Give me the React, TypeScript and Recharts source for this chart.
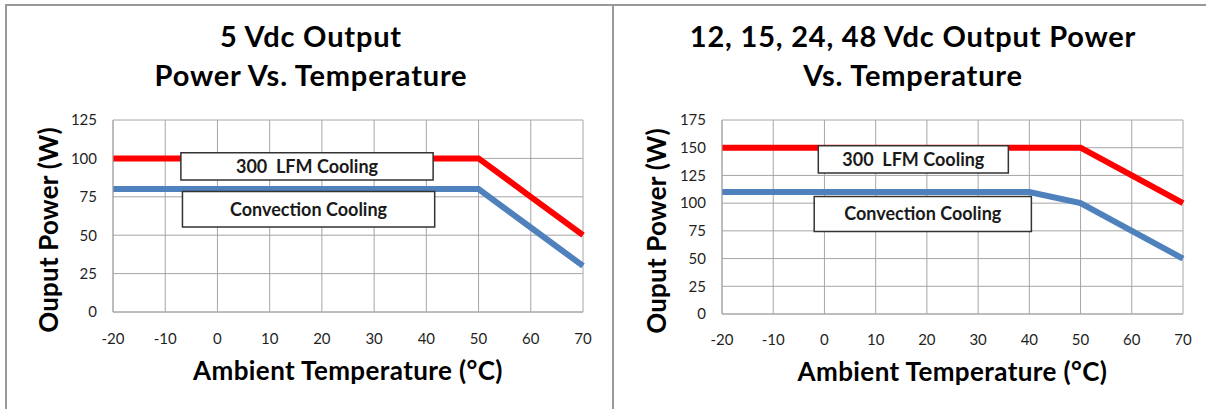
import React from "react";
import {
  CartesianGrid,
  Label,
  Line,
  LineChart,
  ReferenceArea,
  XAxis,
  YAxis,
} from "recharts";

// ambient temperature (°C)
const temps = [-20, -10, 0, 10, 20, 30, 40, 50, 60, 70];

// 5 Vdc output power (W)
const lfm5 = [100, 100, 100, 100, 100, 100, 100, 100, 75, 50];
const conv5 = [80, 80, 80, 80, 80, 80, 80, 80, 55, 30];

// 12, 15, 24, 48 Vdc output power (W)
const lfm12 = [150, 150, 150, 150, 150, 150, 150, 150, 125, 100];
const conv12 = [110, 110, 110, 110, 110, 110, 110, 100, 75, 50];

const yTicks5 = [0, 25, 50, 75, 100, 125];
const yTicks12 = [0, 25, 50, 75, 100, 125, 150, 175];

const lfmName = "300\u00a0 LFM Cooling";
const convName = "Convection Cooling";

const GRID = "#a6a6a6";
const RED = "#ff0000";
const BLUE = "#4f81bd";
const FONT = "Lato, 'Open Sans', sans-serif";

const yTitle = (dx: number, dy: number) => (props: any) => {
  const vb = props.viewBox;
  const cx = vb.x + dx;
  const cy = vb.y + vb.height / 2 + dy;
  return (
    <text
      x={cx}
      y={cy}
      transform={`rotate(-90 ${cx} ${cy})`}
      textAnchor="middle"
      dominantBaseline="central"
      fontSize={26}
      fontWeight="bold"
      fontFamily={FONT}
      letterSpacing={0.2}
      fill="#000"
    >
      Ouput Power (W)
    </text>
  );
};

const xTitle = (dy: number) => (props: any) => {
  const vb = props.viewBox;
  return (
    <text
      x={vb.x + vb.width / 2}
      y={vb.y + dy}
      textAnchor="middle"
      fontSize={26}
      fontWeight="bold"
      fontFamily={FONT}
      letterSpacing={0.4}
      fill="#000"
    >
      Ambient Temperature (°C)
    </text>
  );
};

type Box = { x1: number; x2: number; y1: number; y2: number; text: string };

const boxLabel = (text: string) => ({
  value: text,
  position: "center" as const,
  fontSize: 18,
  fontWeight: "bold",
  fill: "#1a1a1a",
  fontFamily: FONT,
});

const Panel = ({
  left,
  width,
  titleCenter,
  title,
  lfm,
  conv,
  yMax,
  yTicks,
  margin,
  yDx,
  yDy,
  xDy,
  tickMargin,
  boxes,
}: {
  left: number;
  width: number;
  titleCenter: number;
  title: string[];
  lfm: number[];
  conv: number[];
  yMax: number;
  yTicks: number[];
  margin: { top: number; right: number; bottom: number; left: number };
  yDx: number;
  yDy: number;
  xDy: number;
  tickMargin: number;
  boxes: Box[];
}) => {
  const data = temps.map((t, i) => ({ t, lfm: lfm[i], conv: conv[i] }));
  return (
    <div style={{ position: "absolute", left, top: 0, width, height: 409 }}>
      <div
        style={{
          position: "absolute",
          left: titleCenter - 300,
          top: 16,
          width: 600,
          textAlign: "center",
          fontSize: 29,
          lineHeight: "39px",
          letterSpacing: 0.8,
          fontWeight: "bold",
          color: "#000",
        }}
      >
        {title.map((l) => (
          <div key={l}>{l}</div>
        ))}
      </div>
      <div style={{ position: "absolute", left: 0, top: 0 }}>
        <LineChart width={width} height={409} data={data} margin={margin}>
          <CartesianGrid stroke={GRID} strokeWidth={1} fill="#fff" />
          <XAxis
            dataKey="t"
            type="number"
            domain={[-20, 70]}
            ticks={temps}
            interval={0}
            height={30}
            axisLine={{ stroke: GRID }}
            tickLine={false}
            tickSize={0}
            tickMargin={tickMargin}
            tick={{ fill: "#1f1f1f", fontSize: 15 }}
          >
            <Label content={xTitle(xDy)} />
          </XAxis>
          <YAxis
            type="number"
            domain={[0, yMax]}
            ticks={yTicks}
            interval={0}
            width={60}
            axisLine={{ stroke: GRID }}
            tickLine={false}
            tickSize={0}
            tickMargin={16}
            tick={{ fill: "#1f1f1f", fontSize: 15 }}
          >
            <Label content={yTitle(yDx, yDy)} />
          </YAxis>
          <Line
            type="linear"
            dataKey="lfm"
            stroke={RED}
            strokeWidth={6}
            dot={false}
            activeDot={false}
            isAnimationActive={false}
          />
          <Line
            type="linear"
            dataKey="conv"
            stroke={BLUE}
            strokeWidth={6}
            dot={false}
            activeDot={false}
            isAnimationActive={false}
          />
          {boxes.map((b) => (
            <ReferenceArea
              key={b.text}
              x1={b.x1}
              x2={b.x2}
              y1={b.y1}
              y2={b.y2}
              fill="#fff"
              fillOpacity={1}
              stroke="#333"
              strokeWidth={1.5}
              zIndex={1000}
              label={boxLabel(b.text)}
            />
          ))}
        </LineChart>
      </div>
    </div>
  );
};

export default function App() {
  return (
    <div
      style={{
        position: "absolute",
        left: 0,
        top: 0,
        width: 1206,
        height: 409,
        background: "#fff",
        overflow: "hidden",
        fontFamily: FONT,
      }}
    >
      <Panel
        left={0}
        width={613}
        titleCenter={311}
        title={["5 Vdc Output", "Power Vs. Temperature"]}
        lfm={lfm5}
        conv={conv5}
        yMax={125}
        yTicks={yTicks5}
        margin={{ top: 120, right: 30, bottom: 67, left: 53 }}
        yDx={-5}
        yDy={14}
        xDy={68}
        tickMargin={21}
        boxes={[
          { x1: -7, x2: 41.3, y1: 86, y2: 103.7, text: lfmName },
          { x1: -6.7, x2: 41.6, y1: 55.3, y2: 78.4, text: convName },
        ]}
      />
      <Panel
        left={613}
        width={593}
        titleCenter={300}
        title={["12, 15, 24, 48 Vdc Output Power", "Vs. Temperature"]}
        lfm={lfm12}
        conv={conv12}
        yMax={175}
        yTicks={yTicks12}
        margin={{ top: 120, right: 23, bottom: 65, left: 49 }}
        yDx={-6}
        yDy={14}
        xDy={67}
        tickMargin={20}
        boxes={[
          { x1: -1.2, x2: 35.9, y1: 127.1, y2: 151.8, text: lfmName },
          { x1: -2, x2: 40.4, y1: 74.4, y2: 106.1, text: convName },
        ]}
      />
      <div style={{ position: "absolute", left: 5, top: 4, width: 1201, height: 2, background: "#999" }} />
      <div style={{ position: "absolute", left: 5, top: 4, width: 2, height: 405, background: "#999" }} />
      <div style={{ position: "absolute", left: 612, top: 4, width: 2, height: 405, background: "#999" }} />
    </div>
  );
}
